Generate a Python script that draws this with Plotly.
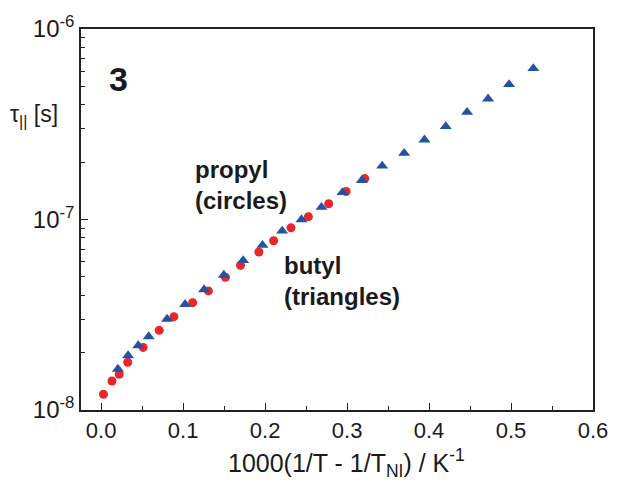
import plotly.graph_objects as go

# propyl (circles)
propyl_x = [0.0028, 0.0132, 0.0220, 0.0324, 0.0512, 0.0708, 0.0888, 0.1116, 0.1308,
            0.1516, 0.1700, 0.1924, 0.2104, 0.2316, 0.2528, 0.2776, 0.2988, 0.3216]
propyl_tau = [1.21e-8, 1.42e-8, 1.54e-8, 1.78e-8, 2.13e-8, 2.62e-8, 3.09e-8, 3.66e-8, 4.22e-8,
              4.97e-8, 5.74e-8, 6.75e-8, 7.73e-8, 9.04e-8, 1.035e-7, 1.209e-7, 1.402e-7, 1.64e-7]

# butyl (triangles)
butyl_x = [0.0204, 0.0328, 0.0452, 0.0580, 0.0804, 0.1024, 0.1256, 0.1496, 0.1732, 0.1968,
           0.2208, 0.2444, 0.2688, 0.2944, 0.3180, 0.3428, 0.3696, 0.3944, 0.4204, 0.4464,
           0.4720, 0.4976, 0.5272]
butyl_tau = [1.64e-8, 1.93e-8, 2.18e-8, 2.43e-8, 3.00e-8, 3.59e-8, 4.29e-8, 5.11e-8, 6.10e-8, 7.33e-8,
             8.71e-8, 1.00e-7, 1.16e-7, 1.386e-7, 1.607e-7, 1.91e-7, 2.23e-7, 2.62e-7, 3.08e-7, 3.66e-7,
             4.30e-7, 5.12e-7, 6.21e-7]

y_major = [1e-8, 1e-7, 1e-6]
y_major_text = ["10<sup>-8</sup>", "10<sup>-7</sup>", "10<sup>-6</sup>"]
y_minor = [m * 10.0 ** e for e in (-8, -7) for m in range(2, 10)]

FONT = "Liberation Sans, Arial, sans-serif"
RED = "#e8262b"
BLUE = "#2452a4"

fig = go.Figure()
fig.add_trace(go.Scatter(x=propyl_x, y=propyl_tau, mode="markers",
                         marker=dict(symbol="circle", size=9, color=RED, line=dict(width=0)),
                         name="propyl"))
fig.add_trace(go.Scatter(x=butyl_x, y=butyl_tau, mode="markers",
                         marker=dict(symbol="triangle-up", size=10.5, color=BLUE, line=dict(width=0)),
                         name="butyl"))

fig.update_layout(
    width=620, height=484,
    margin=dict(l=81, r=18, t=29, b=74),
    paper_bgcolor="white", plot_bgcolor="white",
    showlegend=False,
    font=dict(family=FONT, color="#1a1a1a"),
)
fig.update_xaxes(
    range=[-0.0246, 0.6], tick0=0, dtick=0.1, tickformat=".1f",
    ticks="inside", ticklen=7, tickwidth=1.3, tickcolor="#222",
    minor=dict(ticks="inside", dtick=0.05, ticklen=4, tickwidth=1.3, tickcolor="#222"),
    showline=True, linecolor="#222", linewidth=1.5, mirror=True,
    showgrid=False, zeroline=False,
    tickfont=dict(size=22, family=FONT, color="#1a1a1a"),
)
fig.update_yaxes(
    type="log", range=[-8, -6],
    tickmode="array", tickvals=y_major, ticktext=y_major_text,
    ticks="inside", ticklen=7, tickwidth=1.3, tickcolor="#222",
    minor=dict(tickmode="array", tickvals=y_minor, ticks="inside", ticklen=4.5,
               tickwidth=1.3, tickcolor="#222"),
    showline=True, linecolor="#222", linewidth=1.5, mirror=True,
    showgrid=False, zeroline=False,
    tickfont=dict(size=24, family=FONT, color="#1a1a1a"),
)

ann = [
    dict(text="<b>3</b>", x=0.074, y=0.869, xanchor="center", yanchor="middle",
         font=dict(size=34)),
    dict(text="<b>propyl<br>(circles)</b>", x=0.218, y=0.59, xanchor="left", yanchor="middle",
         align="left", font=dict(size=24)),
    dict(text="<b>butyl<br>(triangles)</b>", x=0.393, y=0.338, xanchor="left", yanchor="middle",
         align="left", font=dict(size=24)),
    dict(text="τ<sub>||</sub> [s]", x=-0.143, y=0.774, xanchor="left", yanchor="middle",
         font=dict(size=23)),
    dict(text="1000(1/T - 1/T<sub>NI</sub>) / K<sup>-1</sup>", x=0.518, y=-0.14,
         xanchor="center", yanchor="middle", font=dict(size=25)),
]
for a in ann:
    a.update(xref="paper", yref="paper", showarrow=False)
    a["font"].update(family=FONT, color="#1a1a1a")
fig.update_layout(annotations=ann)

fig.write_html("out.html")
